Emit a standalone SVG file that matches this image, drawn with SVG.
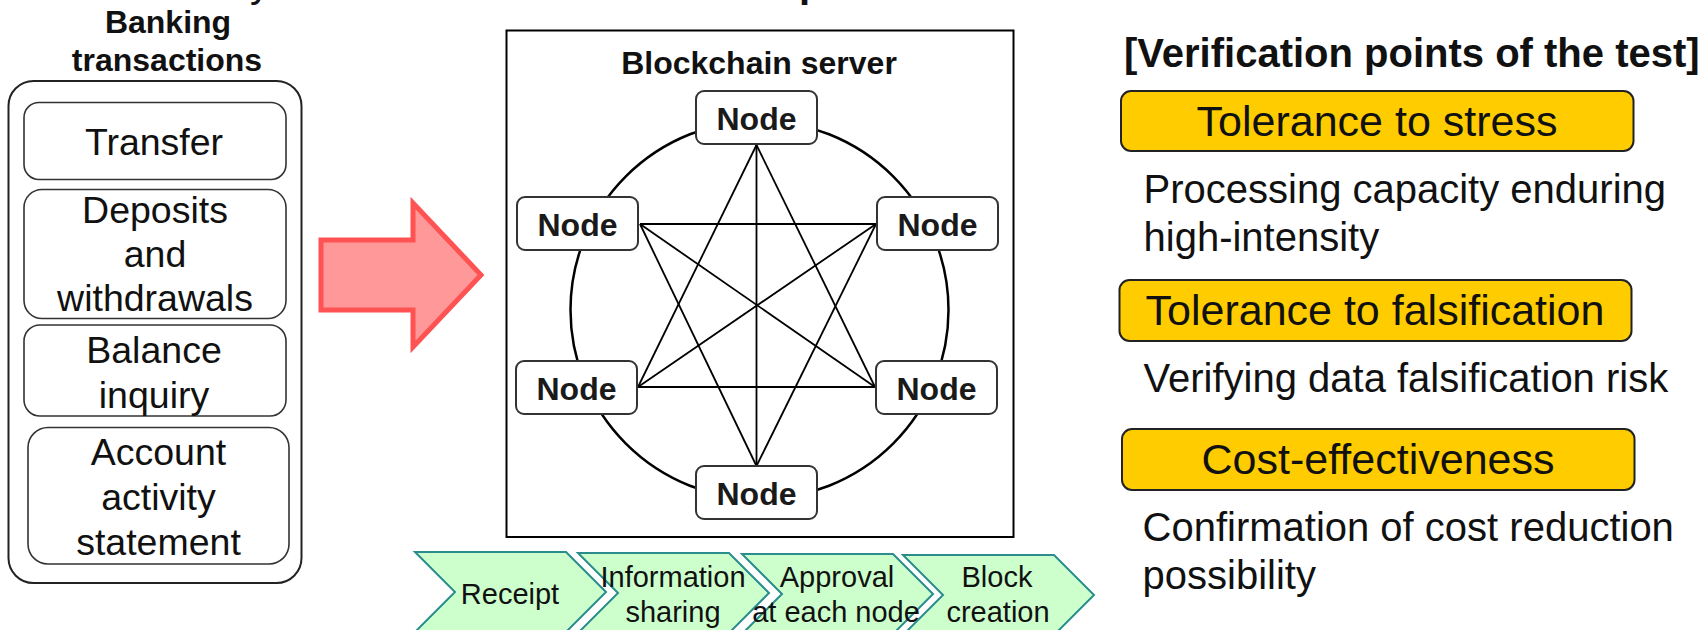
<svg xmlns="http://www.w3.org/2000/svg" width="1699" height="630" viewBox="0 0 1699 630">
  <style>
    text { font-family: "Liberation Sans", Arial, sans-serif; fill: #111; }
    .b { font-weight: bold; }
    .c { text-anchor: middle; }
    .f37 { font-size: 37.5px; }
    .f32 { font-size: 32px; }
    .f29 { font-size: 29px; }
    .f40 { font-size: 40px; }
    .f43 { font-size: 43px; }
    .item { fill: #fff; stroke: #333; stroke-width: 1.6; }
    .node rect { fill: #fff; stroke: #333; stroke-width: 2; }
    .node text { font-size: 32px; font-weight: bold; text-anchor: middle; fill: #1a1a1a; }
    .step polygon { fill: #ccffcc; stroke: #2a8c8c; stroke-width: 2; }
    .point rect { fill: #ffcc00; stroke: #222; stroke-width: 2; }
    .link { stroke: #000; stroke-width: 1.8; fill: none; }
  </style>

  <!-- clipped title fragments at the top edge -->
  <text class="f40" x="250" y="-3.5">y</text>
  <text class="f40 b" x="799" y="-3.5">p</text>

  <!-- banking transactions column -->
  <g id="banking">
    <text class="b c f32" x="168" y="33">Banking</text>
    <text class="b c f32" x="167" y="70.5">transactions</text>
    <rect x="8.5" y="81" width="293" height="502" rx="25" fill="#fff" stroke="#222" stroke-width="2"/>
  </g>
  <g id="transfer">
    <rect class="item" x="24" y="102.5" width="262" height="77" rx="15"/>
    <text class="c f37" x="154" y="155">Transfer</text>
  </g>
  <g id="deposits">
    <rect class="item" x="24" y="189.5" width="262" height="129" rx="18"/>
    <text class="c f37" x="155" y="223">Deposits</text>
    <text class="c f37" x="155" y="267">and</text>
    <text class="c f37" x="155" y="310.5">withdrawals</text>
  </g>
  <g id="balance">
    <rect class="item" x="24" y="325" width="262" height="91" rx="16"/>
    <text class="c f37" x="154" y="362.5">Balance</text>
    <text class="c f37" x="154" y="408">inquiry</text>
  </g>
  <g id="statement">
    <rect class="item" x="28" y="427.5" width="261" height="136.5" rx="20"/>
    <text class="c f37" x="158.5" y="465">Account</text>
    <text class="c f37" x="158.5" y="510">activity</text>
    <text class="c f37" x="158.5" y="555">statement</text>
  </g>

  <!-- flow arrow into the server -->
  <g id="flow-arrow">
    <polygon points="321,240 413,240 413,203 481,275 413,347 413,310 321,310" fill="#ff9999" stroke="#ff5353" stroke-width="5" stroke-linejoin="miter"/>
  </g>

  <!-- blockchain server frame -->
  <g id="server">
    <rect x="506.5" y="30.5" width="507" height="506.5" fill="#fff" stroke="#000" stroke-width="2"/>
    <text class="b c f32" x="759" y="74">Blockchain server</text>
    <circle cx="759.5" cy="310" r="189" fill="none" stroke="#000" stroke-width="2.5"/>
  </g>

  <!-- peer links between nodes -->
  <g id="links" class="link">
    <line x1="756.5" y1="145" x2="638" y2="387"/>
    <line x1="756.5" y1="145" x2="875" y2="387"/>
    <line x1="638" y1="387" x2="875" y2="387"/>
    <line x1="640" y1="224" x2="876" y2="224"/>
    <line x1="640" y1="224" x2="756.5" y2="466"/>
    <line x1="876" y1="224" x2="756.5" y2="466"/>
    <line x1="756.5" y1="145" x2="756.5" y2="466"/>
    <line x1="640" y1="224" x2="875" y2="387"/>
    <line x1="876" y1="224" x2="638" y2="387"/>
  </g>

  <g id="node-top" class="node">
    <rect x="696" y="91" width="121" height="53" rx="8"/>
    <text x="756.5" y="129.5">Node</text>
  </g>
  <g id="node-upper-left" class="node">
    <rect x="517" y="197" width="121" height="53" rx="8"/>
    <text x="577.5" y="235.5">Node</text>
  </g>
  <g id="node-upper-right" class="node">
    <rect x="877" y="197" width="121" height="53" rx="8"/>
    <text x="937.5" y="235.5">Node</text>
  </g>
  <g id="node-lower-left" class="node">
    <rect x="516" y="361" width="121" height="53" rx="8"/>
    <text x="576.5" y="399.5">Node</text>
  </g>
  <g id="node-lower-right" class="node">
    <rect x="876" y="361" width="121" height="53" rx="8"/>
    <text x="936.5" y="399.5">Node</text>
  </g>
  <g id="node-bottom" class="node">
    <rect x="696" y="466" width="121" height="53" rx="8"/>
    <text x="756.5" y="504.5">Node</text>
  </g>

  <!-- processing steps -->
  <g id="step-receipt" class="step">
    <polygon points="415,552 566,552 606,592 566,632 415,632 455,592"/>
    <text class="c f29" x="510" y="604">Receipt</text>
  </g>
  <g id="step-sharing" class="step">
    <polygon points="578,553 729,553 769,593 729,633 578,633 618,593"/>
    <text class="c f29" x="673" y="586.5">Information</text>
    <text class="c f29" x="673" y="621.5">sharing</text>
  </g>
  <g id="step-approval" class="step">
    <polygon points="742,554 893,554 933,594 893,634 742,634 782,594"/>
    <text class="c f29" x="837" y="586.5">Approval</text>
    <text class="c f29" x="836" y="621.5">at each node</text>
  </g>
  <g id="step-block" class="step">
    <polygon points="903,555 1054,555 1094,595 1054,635 903,635 943,595"/>
    <text class="c f29" x="997" y="586.5">Block</text>
    <text class="c f29" x="998" y="621.5">creation</text>
  </g>

  <!-- verification points -->
  <text class="b" x="1124" y="66.5" font-size="40">[Verification points of the test]</text>

  <g id="point-stress" class="point">
    <rect x="1121" y="91" width="512.5" height="60" rx="10"/>
    <text class="c f43" x="1377" y="136">Tolerance to stress</text>
  </g>
  <text class="f40" x="1143.5" y="203">Processing capacity enduring</text>
  <text class="f40" x="1143.5" y="251">high-intensity</text>

  <g id="point-falsification" class="point">
    <rect x="1119.5" y="280" width="512" height="61" rx="10"/>
    <text class="c f43" x="1375" y="325">Tolerance to falsification</text>
  </g>
  <text class="f40" x="1143.5" y="391.5">Verifying data falsification risk</text>

  <g id="point-cost" class="point">
    <rect x="1122" y="429" width="512.5" height="61" rx="10"/>
    <text class="c f43" x="1378" y="473.5">Cost-effectiveness</text>
  </g>
  <text class="f40" x="1142.5" y="540.5">Confirmation of cost reduction</text>
  <text class="f40" x="1142.5" y="588.5">possibility</text>
</svg>
